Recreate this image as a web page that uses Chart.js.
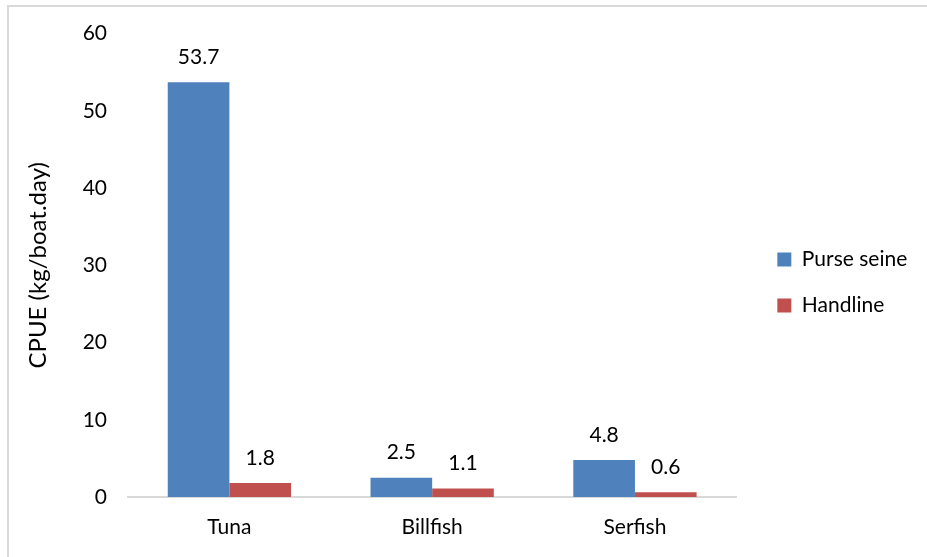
<!DOCTYPE html>
<html>
<head>
<meta charset="utf-8">
<script src="https://cdn.jsdelivr.net/npm/chart.js@4.4.0/dist/chart.umd.min.js"></script>
<style>
  html, body { margin: 0; padding: 0; background: #fff; }
  #wrap { position: relative; width: 927px; height: 557px; }
  #frame { position: absolute; left: 7px; top: 5px; right: -2px; bottom: -2px;
           border-top: 2px solid #d9d9d9; border-left: 2px solid #d9d9d9; }
  canvas { position: absolute; left: 0; top: 0; }
</style>
</head>
<body>
<div id="wrap">
  <div id="frame"></div>
  <canvas id="chart" width="927" height="557"></canvas>
</div>
<script>
const categories = ['Tuna', 'Billfish', 'Serfish'];
const purseSeine = [53.7, 2.5, 4.8];
const handline = [1.8, 1.1, 0.6];
const yTicks = [0, 10, 20, 30, 40, 50, 60];

const FONT = 'Lato, "Open Sans", sans-serif';

// value labels above each bar
const valueLabels = {
  id: 'valueLabels',
  afterDatasetsDraw(chart) {
    const ctx = chart.ctx;
    ctx.save();
    ctx.font = '21px ' + FONT;
    ctx.fillStyle = '#000';
    ctx.textAlign = 'center';
    ctx.textBaseline = 'middle';
    chart.data.datasets.forEach((ds, i) => {
      chart.getDatasetMeta(i).data.forEach((bar, j) => {
        ctx.fillText(ds.data[j].toFixed(1), bar.x, bar.y - 25);
      });
    });
    ctx.restore();
  }
};

// give the legend a few extra pixels so its longest label is not clipped
const legendRoom = {
  id: 'legendRoom',
  beforeLayout(chart) {
    const lg = chart.legend;
    if (lg && !lg._roomy) {
      const fit = lg.fit;
      lg.fit = function () { fit.call(this); this.width += 6; };
      lg._roomy = true;
    }
  }
};

const spacerAxis = (position, size) => ({
  type: 'linear',
  position,
  display: true,
  grid: { display: false, drawTicks: false },
  border: { display: false },
  ticks: { display: false },
  afterFit(s) { if (s.isHorizontal()) s.height = size; else s.width = size; }
});

function draw() {
  new Chart(document.getElementById('chart'), {
    type: 'bar',
    data: {
      labels: categories,
      datasets: [
        { label: 'Purse seine', data: purseSeine, backgroundColor: '#4F81BD' },
        { label: 'Handline', data: handline, backgroundColor: '#C0504D' }
      ]
    },
    options: {
      responsive: false,
      animation: false,
      layout: { padding: { top: 8, right: 17, left: 0, bottom: 0 } },
      datasets: { bar: { categoryPercentage: 0.608, barPercentage: 1.0 } },
      plugins: {
        tooltip: { enabled: false },
        legend: {
          position: 'right',
          align: 'center',
          labels: {
            font: { family: FONT, size: 21 },
            color: '#000',
            boxWidth: 14,
            boxHeight: 14,
            padding: 25
          }
        }
      },
      scales: {
        x: {
          grid: { display: false, drawTicks: false },
          border: { display: true, color: '#d9d9d9', width: 2 },
          ticks: { font: { family: FONT, size: 21 }, color: '#000', padding: 18 },
          afterFit(s) { s.height = 60; }
        },
        y: {
          min: 0, max: 60,
          afterBuildTicks(s) { s.ticks = yTicks.map(v => ({ value: v })); },
          grid: { display: false, drawTicks: false },
          border: { display: false },
          ticks: { font: { family: FONT, size: 21 }, color: '#000', padding: 21 },
          title: { display: true, text: 'CPUE (kg/boat.day)', font: { family: FONT, size: 24 }, color: '#000', padding: { top: 24, bottom: 0 } },
          afterFit(s) { s.width = 128; }
        },
        // empty axes: headroom above the plot and a gap before the legend
        gapTop: spacerAxis('top', 22),
        gapRight: spacerAxis('right', 16)
      }
    },
    plugins: [legendRoom, valueLabels]
  });
}

Promise.all([
  document.fonts.load('21px Lato'),
  document.fonts.load('24px Lato')
]).then(draw, draw);
</script>
</body>
</html>
